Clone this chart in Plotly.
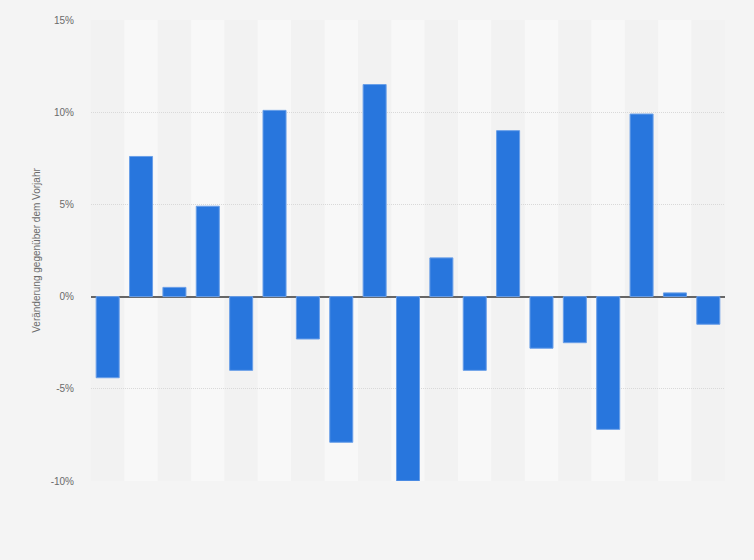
import plotly.graph_objects as go

categories = [str(i) for i in range(1, 20)]
values = [-4.4, 7.6, 0.5, 4.9, -4.0, 10.1, -2.3, -7.9, 11.5, -10.0,
          2.1, -4.0, 9.0, -2.8, -2.5, -7.2, 9.9, 0.2, -1.5]
tick_vals = [-10, -5, 0, 5, 10, 15]
tick_text = ["-10%", "-5%", "0%", "5%", "10%", "15%"]
y_title = "Veränderung gegenüber dem Vorjahr"

fig = go.Figure()
fig.add_trace(go.Bar(
    x=categories, y=values,
    marker=dict(color="#2876dd", line=dict(color="#6a9fe8", width=1)),
    width=0.69,
    hoverinfo="skip",
))

shapes = []
for i, c in enumerate(categories):
    shapes.append(dict(
        type="rect", xref="x", yref="paper",
        x0=i - 0.5, x1=i + 0.5, y0=0, y1=1,
        fillcolor="#f8f8f8" if i % 2 == 1 else "#f2f2f2",
        line=dict(width=0), layer="below",
    ))

fig.update_layout(
    width=754, height=560,
    margin=dict(l=91, r=29, t=20, b=79),
    paper_bgcolor="#f4f4f4", plot_bgcolor="#f4f4f4",
    shapes=shapes,
    showlegend=False,
    font=dict(family="Liberation Sans, Arial, sans-serif", color="#666666", size=10),
    bargap=0.31,
)
fig.update_xaxes(
    showticklabels=False, showgrid=False, zeroline=False,
    range=[-0.5, len(categories) - 0.5],
)
fig.update_yaxes(
    range=[-10, 15], tickvals=tick_vals, ticktext=tick_text,
    showgrid=True, gridcolor="#d9d9d9", griddash="1px,1px", gridwidth=1,
    zeroline=True, zerolinecolor="#666666", zerolinewidth=2,
    ticks="", ticklen=0, ticklabelstandoff=16,
    tickfont=dict(size=10, color="#6a6a6a"),
    title=dict(text=y_title, font=dict(size=10, color="#6a6a6a"), standoff=8),
)
fig.write_html(
    "out.html",
    config={"displayModeBar": False},
    post_script="document.body.style.margin='0';document.body.style.background='#f4f4f4';",
)
